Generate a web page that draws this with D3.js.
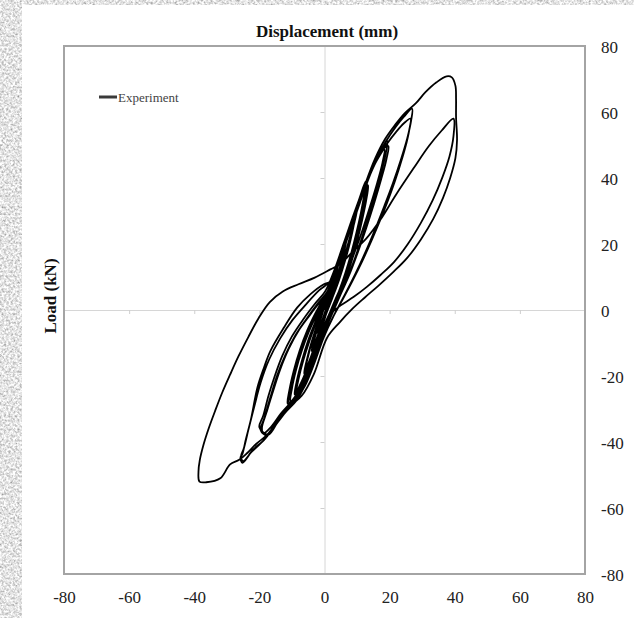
<!DOCTYPE html>
<html>
<head>
<meta charset="utf-8">
<script src="https://cdn.jsdelivr.net/npm/d3@7"></script>
<style>
  html, body { margin: 0; padding: 0; background: #fff; }
  svg { display: block; }
  text { font-family: "Liberation Serif", "Times New Roman", serif; }
</style>
</head>
<body>
<svg id="chart" width="634" height="618"></svg>
<script>
// Axis ticks (both axes use the same range)
const xTicks = [-80, -60, -40, -20, 0, 20, 40, 60, 80];
const yTicks = [-80, -60, -40, -20, 0, 20, 40, 60, 80];

// Cyclic test record, one array per loading cycle: [displacement (mm), load (kN)]
const cycleA1 = [[0,0],[0.7,2.5],[1.4,4.7],[2.1,6.6],[1.7,4.6],[0.9,1.8],[0,-1.1],[-0.8,-3.4],[-1.5,-5.2],[-2.1,-6.6],[-1.7,-4.6],[-0.9,-1.9],[-0.1,0.7]];
const cycleA2 = [[0.8,3],[1.5,5.2],[2.2,7],[1.8,4.9],[1,2],[0.1,-1],[-0.7,-3.2],[-1.5,-5.4],[-2.2,-6.9],[-1.8,-4.8],[-1,-2],[-0.1,0.9]];
const cycleB1 = [[1,4],[2,7.2],[3,10.2],[4,13],[3.4,10.3],[2.4,6.6],[1.2,2.5],[0,-1.7],[-1.2,-5.3],[-2.5,-8.8],[-3.8,-12],[-3.2,-9.2],[-2.2,-5.7],[-1,-1.6],[0.1,1.8]];
const cycleB2 = [[1.2,4.9],[2.3,8.3],[3.3,11.2],[4.2,13.6],[3.6,10.8],[2.5,6.8],[1.2,2.3],[0,-2],[-1.3,-5.8],[-2.7,-9.4],[-4,-12.4],[-3.3,-9.4],[-2.2,-5.8],[-1,-1.5],[0.2,2]];
const cycleC1 = [[1.6,6],[3.2,10.8],[4.9,15.8],[6.6,21.2],[5.9,17.6],[4.6,12.6],[3,7.1],[1.4,2.3],[0,-2.6],[-1.8,-7.8],[-3.8,-13.2],[-5.9,-18.2],[-5.1,-14.3],[-3.7,-9.1],[-2,-4],[-0.5,0.6]];
const cycleC2 = [[1.2,5],[2.9,10.2],[4.8,15.8],[6.8,21.6],[6,17.6],[4.7,12.4],[3,6.8],[1.4,2],[0,-2.9],[-1.9,-8.2],[-4,-13.8],[-6.1,-18.6],[-5.3,-14.6],[-3.8,-9.2],[-2.1,-4],[-0.6,0.8]];
const cycleC3 = [[1.4,5.6],[3.1,10.8],[5,16.6],[7,22.4],[6.1,18],[4.7,12.6],[3,6.6],[1.3,1.6],[-0.2,-3.4],[-2.1,-8.8],[-4.2,-14.4],[-6.3,-19.2],[-5.4,-15],[-3.9,-9.6],[-2.2,-4.4],[-0.7,0.6]];
const cycleD1 = [[1,5.2],[3,11],[5.1,17.2],[7.3,23.8],[9.6,30.4],[9.1,26.4],[8,21.2],[6.4,15.2],[4.5,9.2],[2.4,3.6],[0.2,-2],[-2,-8.4],[-4.3,-15],[-6.5,-20.6],[-8.6,-24.6],[-7.9,-20.6],[-6.5,-15.2],[-4.7,-9.6],[-2.7,-4.2],[-0.8,0.8]];
const cycleD2 = [[1,5.4],[3,11.4],[5.2,17.8],[7.5,24.4],[9.9,30.8],[9,26.4],[7.4,20.6],[5.6,14.4],[3.5,8],[1.5,2.4],[-0.6,-3.4],[-2.7,-9.8],[-4.8,-16.2],[-6.9,-21.4],[-8.9,-25],[-8.1,-20.8],[-6.7,-15.2],[-4.8,-9.4],[-2.8,-4],[-0.9,1]];
const cycleD3 = [[1.2,6],[3.3,12.2],[5.5,18.6],[7.8,25],[10.2,31.2],[9.2,26.6],[7.5,20.4],[5.6,13.8],[3.5,7.4],[1.4,1.8],[-0.8,-4],[-3,-10.6],[-5.1,-17],[-7.2,-22.2],[-9.2,-25.6],[-8.4,-21],[-6.9,-15.2],[-5,-9.2],[-2.9,-3.8],[-1,1.2]];
const cycleE1 = [[1,5.4],[3.6,12.4],[6.1,20],[8.6,27.6],[10.8,34],[12.6,39],[12.2,35],[11.2,29.6],[9.8,23.4],[8.2,17.2],[6.4,11.2],[4.4,5.6],[2.2,0.4],[0,-4.4],[-2.2,-10.4],[-4.4,-16.6],[-6.6,-22],[-8.6,-26],[-10.4,-27.6],[-10,-23.8],[-8.8,-18.4],[-7,-12.4],[-4.8,-6.6],[-2.5,-1.6],[-0.3,2.8]];
const cycleE2 = [[2,7.2],[4.6,14.6],[7.2,22.4],[9.7,30],[11.7,35.4],[13.1,38.4],[12.6,34.2],[11.5,28.6],[10,22.2],[8.3,16],[6.4,10],[4.3,4.4],[2.1,-0.8],[-0.2,-5.6],[-2.5,-11.6],[-4.8,-17.8],[-7,-23],[-9,-26.6],[-10.9,-28],[-10.4,-24],[-9.2,-18.4],[-7.4,-12.2],[-5.2,-6.4],[-2.8,-1.4],[-0.5,2.8]];
const cycleE3 = [[2.2,8],[4.9,15.6],[7.6,23.4],[10.1,30.8],[12,35.6],[13.4,37.8],[12.8,33.2],[11.6,27.4],[10,20.8],[8.2,14.4],[6.2,8.6],[4,3.2],[1.8,-1.8],[-0.6,-6.8],[-2.9,-12.6],[-5.2,-18.6],[-7.5,-23.8],[-9.6,-27],[-11.3,-28.4],[-10.8,-24.4],[-9.5,-18.6],[-7.6,-12.2],[-5.3,-6.2],[-2.9,-1.2],[-0.6,3]];
const cycleF1 = [[2,7.8],[4.5,15],[7.4,24],[10.5,32.8],[13.5,40.4],[16.4,46.6],[19.3,51.2],[18.8,47.4],[17.4,41.6],[15.4,34.6],[13.2,27.2],[10.8,19.8],[8.2,12.6],[5.4,5.8],[2.6,-0.6],[0,-6.6],[-2.6,-13.8],[-5.2,-20.6],[-7.6,-25.8],[-10.4,-29],[-13.6,-32.6],[-17.3,-37.8],[-20,-35.5],[-18.8,-32],[-17.2,-26],[-15.4,-20.4],[-13,-14],[-10,-8],[-6.5,-2.8],[-3,1.8],[0.3,5.8]];
const cycleF2 = [[3,12],[6,20.5],[9.2,29.6],[12.4,38],[15.6,45],[17.8,48.6],[19.6,49.7],[19,45.6],[17.4,39.6],[15.2,32.2],[12.8,24.8],[10.2,17.4],[7.6,10.6],[4.8,4.4],[2,-1.6],[-0.6,-7.8],[-3.2,-15],[-6,-22],[-8.8,-26.8],[-12,-30.4],[-15,-34.4],[-17.6,-38],[-19.6,-36.4],[-18.4,-32.6],[-16.6,-26.4],[-14.6,-20],[-12,-13.6],[-9,-7.8],[-5.6,-2.8],[-2.2,1.8],[1,5.8]];
const cycleF3 = [[3.4,12.6],[6.6,21.4],[9.8,30.4],[13,38.6],[16,45.2],[18.4,48.6],[17.8,44.6],[16.2,38.6],[14,31.4],[11.6,24],[9,16.8],[6.4,10],[3.6,3.8],[1,-2.4],[-1.6,-9],[-4.4,-16.6],[-7.2,-23.4],[-10.2,-27.8],[-13.4,-31.4],[-16.4,-35.4],[-18.8,-37.4],[-19.2,-35.6],[-17.8,-31],[-15.8,-24.6],[-13.6,-18],[-11,-11.8],[-7.8,-6],[-4.4,-1.4],[-1,3],[2.2,7.6]];
const cycleG1 = [[3.6,12.6],[6.4,20.4],[9.4,29],[12.4,37.6],[15.6,45.2],[18.8,51],[21.8,55.4],[24.4,58.6],[26.9,61],[26.6,57.4],[25.4,52],[23.4,45.4],[21,38.4],[18.4,31.6],[15.6,24.6],[12.6,17.6],[9.4,10.8],[6.2,4.6],[3,-1.4],[0,-7.6],[-2.8,-15],[-5.6,-22],[-8.6,-27.4],[-12,-31],[-15.4,-35.4],[-18.6,-39.4],[-22,-42.4],[-25.2,-46.3],[-25.8,-44.7],[-25.2,-43.6],[-24.2,-39.4],[-22.6,-33.2],[-20.6,-23.5],[-18.6,-17.5],[-16.6,-12.4],[-12.5,-5.4],[-8.4,0.7],[-4.3,4.8],[-0.2,7.8],[2.4,8.8]];
const cycleG2 = [[4.4,14],[7,21.6],[10,30],[13,38.4],[16,45.4],[19.2,50.4],[22,54],[24.4,56.6],[26.4,58],[26,54.4],[24.8,49.2],[22.8,42.6],[20.4,35.6],[17.6,28.4],[14.6,21.4],[11.6,14.8],[8.6,8.8],[5.6,3.2],[2.6,-2.2],[-0.2,-8.2],[-3,-15.8],[-6,-23],[-9.2,-28],[-12.6,-31.6],[-16,-36.2],[-19.4,-40.2],[-22.4,-43],[-25,-45.8],[-25.6,-44.2],[-24.8,-42],[-23.4,-36.4],[-21.6,-29.4],[-19.6,-22],[-17,-15],[-13.6,-8.6],[-9.8,-3],[-5.6,1.8],[-1.6,6],[2,9]];
const cycleH1 = [[4.4,15.4],[7,22.6],[9.8,30],[12.6,38.4],[15.6,46],[18.6,51.8],[21.6,56],[24.6,59.6],[28,62.6],[31,66],[34.4,69],[37.5,70.8],[39.1,70.5],[40.2,68],[40.4,64],[40.4,58.4],[40.7,51.5],[40.2,46],[38.6,40],[36.4,34],[33.4,27.6],[29.6,21.4],[25.4,15.8],[21,11.4],[16.6,7.4],[12.4,3.8],[8.6,0.4],[4.6,-3.8],[0.8,-8.4],[-3.3,-19.5],[-7,-26],[-10,-28.6],[-13.8,-32.6],[-17.4,-37.6],[-21,-40.6],[-23.8,-43.4],[-26.2,-45.4],[-29,-46.8],[-32,-51],[-36.3,-52.2],[-38.4,-52],[-38.7,-49],[-38.3,-45.5],[-37.2,-41],[-35.6,-36],[-33.6,-30.6],[-31.4,-25],[-29,-19.6],[-26.4,-14],[-23.4,-8.2],[-20.2,-2.4],[-16.8,2.4],[-12.8,5.6],[-8,7.8],[-3,9.8],[1.8,12.3]];
const cycleH2 = [[4.9,14],[8.6,17.6],[12.8,21.6],[17.2,27.4],[22,35],[27.4,43],[32,49.6],[36,54.4],[39.6,58],[39.6,52.6],[38.4,46.6],[36.2,40.2],[33.2,33.2],[29.6,26.4],[25.6,20],[21.4,14.6],[17.2,10.6],[13,7],[9,4],[5,1.4],[2.4,-0.6]];

const cycles = [cycleA1, cycleA2, cycleB1, cycleB2, cycleC1, cycleC2, cycleC3,
                cycleD1, cycleD2, cycleD3, cycleE1, cycleE2, cycleE3,
                cycleF1, cycleF2, cycleF3, cycleG1, cycleG2, cycleH1, cycleH2];

const seriesName = "Experiment";

const svg = d3.select("#chart");

// Textured backdrop along the left and top edges
const defs = svg.append("defs");
const tex = defs.append("filter").attr("id", "paper")
  .attr("x", 0).attr("y", 0).attr("width", "100%").attr("height", "100%");
tex.append("feTurbulence").attr("type", "fractalNoise")
  .attr("baseFrequency", 0.45).attr("numOctaves", 3).attr("seed", 7).attr("result", "n");
tex.append("feColorMatrix").attr("in", "n").attr("type", "matrix")
  .attr("values", "1.15 0 0 0 0.2  1.15 0 0 0 0.2  1.15 0 0 0 0.2  0 0 0 0 1");

svg.append("rect").attr("x", 0).attr("y", 0).attr("width", 634).attr("height", 618)
  .attr("filter", "url(#paper)");
svg.append("rect").attr("x", 22).attr("y", 5).attr("width", 612).attr("height", 613)
  .attr("fill", "#fff");

// Plot area
const plotLeft = 64, plotRight = 585, plotTop = 46, plotBottom = 574;
const x = d3.scaleLinear().domain([-80, 80]).range([plotLeft, plotRight]);
const y = d3.scaleLinear().domain([-80, 80]).range([plotBottom, plotTop]);

// Zero lines carrying small ticks
const zx = svg.append("g").attr("transform", `translate(0,${y(0)})`)
  .call(d3.axisBottom(x).tickValues(xTicks).tickSize(4).tickSizeOuter(0).tickFormat(""));
const zy = svg.append("g").attr("transform", `translate(${x(0)},0)`)
  .call(d3.axisLeft(y).tickValues(yTicks).tickSize(4).tickSizeOuter(0).tickFormat(""));
[zx, zy].forEach(g => {
  g.select(".domain").attr("stroke", "#d6d6d6").attr("stroke-width", 1);
  g.selectAll(".tick line").attr("stroke", "#cfcfcf");
});

// Frame
svg.append("rect").attr("x", plotLeft).attr("y", plotTop)
  .attr("width", plotRight - plotLeft).attr("height", plotBottom - plotTop)
  .attr("fill", "none").attr("stroke", "#a4a4a4").attr("stroke-width", 2);

// Tick labels: bottom edge and right edge (plain hyphen for negatives)
const fmt = d => String(d);
const bx = svg.append("g").attr("transform", `translate(0,${plotBottom})`)
  .call(d3.axisBottom(x).tickValues(xTicks).tickSize(0).tickPadding(17).tickFormat(fmt));
const ry = svg.append("g").attr("transform", `translate(${plotRight},0)`)
  .call(d3.axisRight(y).tickValues(yTicks).tickSize(0).tickPadding(16).tickFormat(fmt));
[bx, ry].forEach(g => {
  g.select(".domain").remove();
  g.selectAll("text").attr("font-family", "Liberation Serif, serif")
    .attr("font-size", 17).attr("fill", "#222");
});
ry.selectAll("text").attr("dy", "0.38em");

// Axis titles
svg.append("text").attr("x", 327).attr("y", 37).attr("text-anchor", "middle")
  .attr("font-size", 17).attr("font-weight", "bold").attr("fill", "#111")
  .text("Displacement (mm)");
svg.append("text").attr("transform", "translate(56,296) rotate(-90)")
  .attr("text-anchor", "middle").attr("font-size", 17).attr("font-weight", "bold")
  .attr("fill", "#111").text("Load (kN)");

// Hysteresis curve
const line = d3.line()
  .x(d => x(d[0])).y(d => y(d[1]))
  .curve(d3.curveCatmullRom.alpha(0.5));
svg.append("path").datum(cycles.flat())
  .attr("d", line).attr("fill", "none")
  .attr("stroke", "#000").attr("stroke-width", 1.8).attr("stroke-linejoin", "round");

// Legend
svg.append("line").attr("x1", 99).attr("x2", 117).attr("y1", 97).attr("y2", 97)
  .attr("stroke", "#3a3a3a").attr("stroke-width", 3);
svg.append("text").attr("x", 118).attr("y", 101.5).attr("font-size", 13)
  .attr("fill", "#444").text(seriesName);
</script>
</body>
</html>
